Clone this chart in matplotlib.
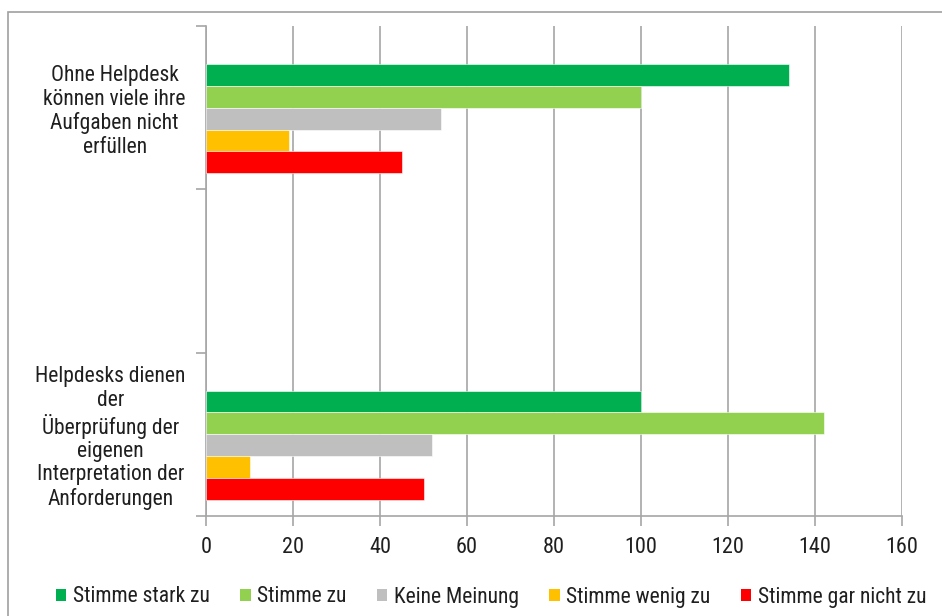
import numpy as np
import matplotlib
matplotlib.use("Agg")
import matplotlib.pyplot as plt
from matplotlib.patches import Patch, Rectangle

# ----------------------------------------
# Data
# ----------------------------------------
categories = [
    "Ohne Helpdesk\nkönnen viele ihre\nAufgaben nicht\nerfüllen",
    "",
    "Helpdesks dienen\nder\nÜberprüfung der\neigenen\nInterpretation der\nAnforderungen",
]
series_names = ["Stimme stark zu", "Stimme zu", "Keine Meinung",
                "Stimme wenig zu", "Stimme gar nicht zu"]
stark_zu = [134, np.nan, 100]
zu = [100, np.nan, 142]
keine = [54, np.nan, 52]
wenig_zu = [19, np.nan, 10]
gar_nicht = [45, np.nan, 50]
x_ticks = [0, 20, 40, 60, 80, 100, 120, 140, 160]

colors = ["#00B050", "#92D050", "#BFBFBF", "#FFC000", "#FF0000"]
values = [stark_zu, zu, keine, wenig_zu, gar_nicht]

# ----------------------------------------
# Style
# ----------------------------------------
plt.rcParams["font.family"] = ["Roboto Condensed", "DejaVu Sans"]
plt.rcParams["font.size"] = 15.5
text_color = "#1f1f1f"
grid_color = "#a6a6a6"

fig = plt.figure(figsize=(9.42, 6.16), dpi=100)
ax = fig.add_axes([206 / 942, 1 - 516 / 616, 696 / 942, 490 / 616])

# outer chart frame
fig.patches.append(Rectangle((8 / 942, -0.1), 1.0, 1.1 - 12 / 616,
                             transform=fig.transFigure, fill=False,
                             edgecolor="#a0a0a0", linewidth=1.2))

# ----------------------------------------
# Bars: six slots per category, first slot left empty
# ----------------------------------------
ypos = np.arange(len(categories))
h = 0.1337
for i, (vals, col, name) in enumerate(zip(values, colors, series_names)):
    offset = (i + 1 - 2.5) * h
    ax.barh(ypos + offset, vals, height=h, color=col, label=name,
            edgecolor="white", linewidth=0.4, zorder=3)

ax.set_xlim(0, 160)
ax.set_ylim(2.5, -0.5)
ax.set_xticks(x_ticks)
ax.xaxis.grid(True, color=grid_color, linewidth=1.2, zorder=0)

ax.set_yticks(ypos)
ax.set_yticklabels(categories)
ax.set_yticks([-0.5, 0.5, 1.5, 2.5], minor=True)
ax.tick_params(axis="y", which="major", length=0, pad=14.5, colors=text_color)
ax.tick_params(axis="y", which="minor", length=7, color=grid_color, width=1.2)
ax.tick_params(axis="x", length=7, color=grid_color, width=1.2, pad=8,
               labelcolor=text_color, labelsize=16)
for lbl in ax.get_yticklabels():
    lbl.set_multialignment("center")
    lbl.set_linespacing(1.15)

for side in ["top", "right"]:
    ax.spines[side].set_visible(False)
for side in ["left", "bottom"]:
    ax.spines[side].set_color(grid_color)
    ax.spines[side].set_linewidth(1.2)

# ----------------------------------------
# Legend
# ----------------------------------------
handles = [Patch(facecolor=c, edgecolor="none", label=n)
           for c, n in zip(colors, series_names)]
fig.legend(handles=handles, loc="center", bbox_to_anchor=(491 / 942, 1 - 597 / 616),
           ncol=5, frameon=False, handlelength=0.5, handleheight=0.5,
           handletextpad=0.3, columnspacing=1.4, labelcolor=text_color,
           borderpad=0, borderaxespad=0)

fig.savefig("out.png", dpi=100)
